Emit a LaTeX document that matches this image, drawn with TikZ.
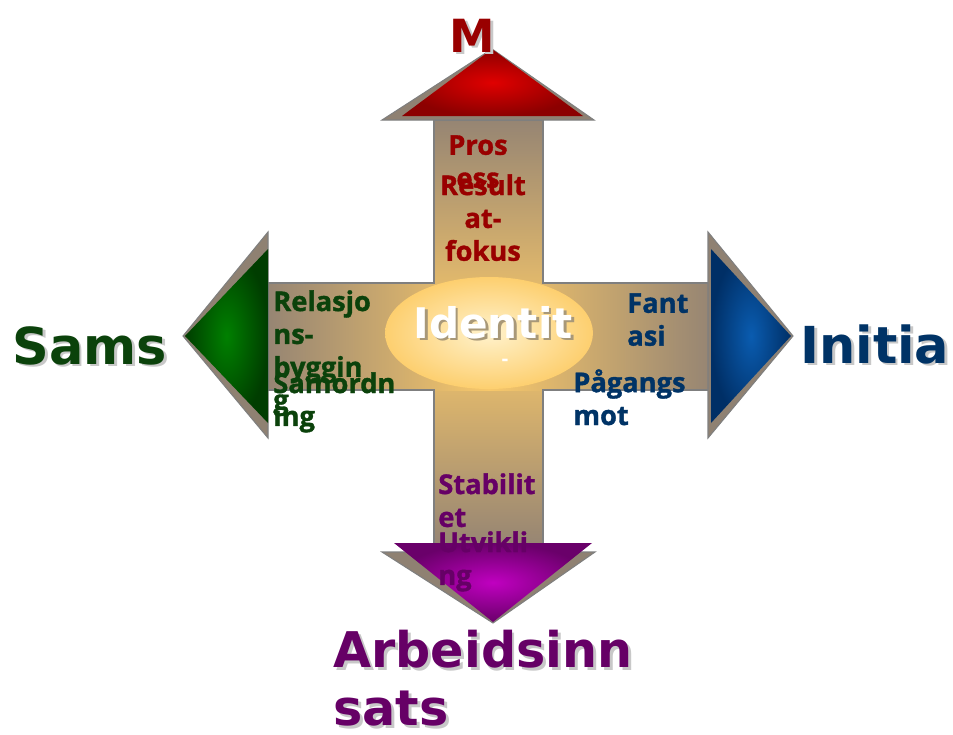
\documentclass[tikz,border=0pt]{standalone}
\usepackage{fontspec}
\usepackage{tikz}
\newfontfamily\headfont{DejaVu Sans}
\newfontfamily\labfont{Open Sans}[BoldFeatures={FakeBold=1.3}]
\definecolor{shaftend}{HTML}{968573}
\definecolor{shaftmid}{HTML}{F8C86A}
\definecolor{edgegray}{HTML}{7F7F7F}
\definecolor{headgray}{HTML}{8F8172}
\definecolor{ellin}{HTML}{FFF2CC}
\definecolor{ellout}{HTML}{FDCF6F}
\definecolor{redin}{HTML}{E00000}
\definecolor{redout}{HTML}{8C0000}
\definecolor{greenin}{HTML}{008000}
\definecolor{greenout}{HTML}{003D00}
\definecolor{bluein}{HTML}{0A5CB0}
\definecolor{blueout}{HTML}{002F66}
\definecolor{purplein}{HTML}{C000C0}
\definecolor{purpleout}{HTML}{6A006A}
\definecolor{redtxt}{HTML}{990000}
\definecolor{greentxt}{HTML}{0B420B}
\definecolor{bluetxt}{HTML}{003366}
\definecolor{purpletxt}{HTML}{660066}
\definecolor{lightshd}{HTML}{C8C8C8}
\definecolor{darkshd}{HTML}{A89878}
\newcommand{\shd}[2][lightshd]{\rlap{\kern1.6pt\raisebox{-1.6pt}{\color{#1}#2}}#2}

\begin{document}
\begin{tikzpicture}[x=0.02cm,y=-0.02cm,
        big/.style={font=\headfont\bfseries\fontsize{29}{33}\selectfont, inner sep=0pt},
        lab/.style={font=\labfont\bfseries\fontsize{15.5}{18.7}\selectfont, align=left, inner sep=0pt},
        tipshadow/.style={fill=headgray, draw=edgegray, line width=0.6pt}]
  \useasboundingbox (0,0) rectangle (953,734);

  \shade[top color=shaftend, bottom color=shaftend, middle color=shaftmid] (434,120) rectangle (543,545);
  \shade[left color=shaftend, right color=shaftend, middle color=shaftmid] (268,283) rectangle (710,390);
  \draw[edgegray, line width=0.8pt] (434,120) -- (434,283) -- (268,283) -- (268,390) -- (434,390) -- (434,545)
        -- (543,545) -- (543,390) -- (710,390) -- (710,283) -- (543,283) -- (543,120) -- cycle;
  \shade[inner color=ellin, outer color=ellout] (489,333) ellipse [x radius=2.08cm, y radius=1.12cm];

  \filldraw[tipshadow] (382,120) -- (594,120) -- (492,49) -- cycle;
  \shade[inner color=redin, outer color=redout] (402,116) -- (583,116) -- (492,49) -- cycle;
  \filldraw[tipshadow] (268,232) -- (268,438) -- (183,336) -- cycle;
  \shade[inner color=greenin, outer color=greenout] (268,249) -- (268,423) -- (185,336) -- cycle;
  \filldraw[tipshadow] (708,232) -- (708,438) -- (793,336) -- cycle;
  \shade[inner color=bluein, outer color=blueout] (711,249) -- (711,423) -- (791,336) -- cycle;
  \filldraw[tipshadow] (382,552) -- (595,552) -- (493,623) -- cycle;
  \shade[inner color=purplein, outer color=purpleout] (394,543) -- (592,543) -- (493,622) -- cycle;

  \node[big, text=redtxt, anchor=base west, font=\headfont\bfseries\fontsize{26}{30}\selectfont] (mtop) at (449,52) {\shd{M}};
  \node[big, text=greentxt, anchor=base west] (sams) at (12,364) {\shd{Sams}};
  \node[big, text=bluetxt, anchor=base west] (initia) at (800,363) {\shd{Initia}};
  \node[big, text=purpletxt, anchor=north west, align=left, font=\headfont\bfseries\fontsize{28}{33}\selectfont]
        (arbeid) at (333,630) {\shd{Arbeidsinn}\\\shd{sats}};
  \node[big, text=white, anchor=base, font=\headfont\bfseries\fontsize{24}{28}\selectfont]
        (ident) at (493,338) {\shd[darkshd]{Identit}};
  \node[text=white, inner sep=0pt, font=\headfont\bfseries\fontsize{10}{10}\selectfont] (identdash) at (505,362) {-};

  \node[lab, text=redtxt, anchor=north, align=center] (pros) at (478,135) {Pros\\ess};
  \node[lab, text=redtxt, anchor=north, align=center] (result) at (483,174) {Result\\at-\\fokus};
  \node[lab, text=greentxt, anchor=north west] (relasjon) at (273,290) {Relasjo\\ns-\\byggin\\g};
  \node[lab, text=greentxt, anchor=north west] (samordn) at (273,372) {Samordn\\ing};
  \node[lab, text=bluetxt, anchor=north west] (fantasi) at (627,293) {Fant\\asi};
  \node[lab, text=bluetxt, anchor=north west] (paagang) at (573,369) {Pågangs\\mot};
  \node[lab, text=purpletxt, anchor=north west] (stabil) at (438,473) {Stabilit\\et};
  \node[lab, text=purpletxt, anchor=north west] (utvikl) at (438,531) {Utvikli\\ng};
\end{tikzpicture}
\end{document}
